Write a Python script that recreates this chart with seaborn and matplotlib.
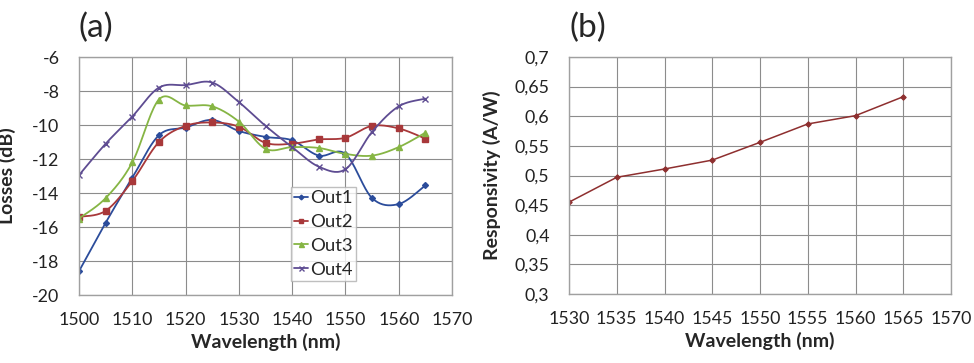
import numpy as np
import matplotlib
matplotlib.use("Agg")
import matplotlib.pyplot as plt
import seaborn as sns

# ---- data ----
wl_a = [1500, 1505, 1510, 1515, 1520, 1525, 1530, 1535, 1540, 1545, 1550, 1555, 1560, 1565]
out1 = [-18.6, -15.75, -13.1, -10.6, -10.15, -9.7, -10.35, -10.7, -10.9, -11.8, -11.7, -14.3, -14.65, -13.55]
out2 = [-15.4, -15.05, -13.3, -11.0, -10.05, -9.85, -10.1, -11.05, -11.1, -10.85, -10.75, -10.05, -10.2, -10.8]
out3 = [-15.5, -14.3, -12.2, -8.5, -8.85, -8.9, -9.8, -11.4, -11.3, -11.35, -11.7, -11.8, -11.3, -10.45]
out4 = [-12.95, -11.1, -9.5, -7.8, -7.65, -7.5, -8.65, -10.05, -11.3, -12.45, -12.6, -10.4, -8.9, -8.45]
series_names = ["Out1", "Out2", "Out3", "Out4"]

wl_b = [1530, 1535, 1540, 1545, 1550, 1555, 1560, 1565]
resp = [0.455, 0.497, 0.511, 0.526, 0.556, 0.587, 0.601, 0.633]

xticks_a = [1500, 1510, 1520, 1530, 1540, 1550, 1560, 1570]
yticks_a = [-20, -18, -16, -14, -12, -10, -8, -6]
yticklabels_a = ["-20", "-18", "-16", "-14", "-12", "-10", "-8", "-6"]
xticks_b = [1530, 1535, 1540, 1545, 1550, 1555, 1560, 1565, 1570]
yticks_b = [0.3, 0.35, 0.4, 0.45, 0.5, 0.55, 0.6, 0.65, 0.7]
yticklabels_b = ["0,3", "0,35", "0,4", "0,45", "0,5", "0,55", "0,6", "0,65", "0,7"]

colors = ["#2B4C9B", "#A8383A", "#86B544", "#5E4C92"]
markers = ["D", "s", "^", "x"]
msizes = [3, 4, 4.5, 4.5]


def smooth(x, y, n=20):
    """Excel-style smoothed line (Catmull-Rom Bezier) for rendering only."""
    x = np.asarray(x, float)
    y = np.asarray(y, float)
    P = np.column_stack([x, y])
    Pe = np.vstack([P[0], P, P[-1]])
    pts = []
    t = np.linspace(0, 1, n, endpoint=False)[:, None]
    for i in range(len(P) - 1):
        p0, p1, p2, p3 = Pe[i], Pe[i + 1], Pe[i + 2], Pe[i + 3]
        c1 = p1 + (p2 - p0) / 6
        c2 = p2 - (p3 - p1) / 6
        seg = ((1 - t) ** 3) * p1 + 3 * ((1 - t) ** 2) * t * c1 + 3 * (1 - t) * t ** 2 * c2 + t ** 3 * p2
        pts.append(seg)
    pts.append(P[-1][None, :])
    pts = np.vstack(pts)
    return pts[:, 0], pts[:, 1]


sns.set_theme(style="white")
plt.rcParams["font.family"] = ["Lato", "DejaVu Sans"]

FS = 12.8
LFS = 14
fig = plt.figure(figsize=(9.74, 3.63), dpi=100)
ax1 = fig.add_axes([0.0811, 0.1873, 0.383, 0.6556])
ax2 = fig.add_axes([0.5842, 0.19, 0.3922, 0.653])

grid_c = "#8c8c8c"

# ---- panel (a) ----
for name, vals, c, m, ms in zip(series_names, [out1, out2, out3, out4], colors, markers, msizes):
    sx, sy = smooth(wl_a, vals)
    sns.lineplot(x=sx, y=sy, ax=ax1, color=c, lw=1.3, sort=False, estimator=None)
    ax1.plot(wl_a, vals, linestyle="none", marker=m, ms=ms, color=c, mew=1.0)
    ax1.plot([], [], color=c, marker=m, ms=ms * 0.8, lw=1.3, label=name)

ax1.set_xlim(1500, 1570)
ax1.set_ylim(-20, -6)
ax1.set_xticks(xticks_a)
ax1.set_yticks(yticks_a)
ax1.set_yticklabels(yticklabels_a)
ax1.set_xlabel("Wavelength (nm)", fontsize=LFS, fontweight="bold", labelpad=4)
ax1.set_ylabel("Losses (dB)", fontsize=LFS, fontweight="bold")
ax1.yaxis.set_label_coords(-0.168, 0.5)
leg = ax1.legend(loc="upper left", bbox_to_anchor=(0.567, 0.455), frameon=True, fancybox=False,
                 fontsize=FS + 0.5, handlelength=0.75, handletextpad=0.1, borderpad=0.2,
                 labelspacing=0.42, borderaxespad=0)
leg.get_frame().set_edgecolor("#b0b0b0")
leg.get_frame().set_linewidth(1.0)
ax1.text(0.0, 1.06, "(a)", transform=ax1.transAxes, fontsize=24, ha="left", va="bottom")

# ---- panel (b) ----
sns.lineplot(x=wl_b, y=resp, ax=ax2, color="#8E2F2F", lw=1.1, marker="D", ms=2.8,
             markeredgecolor="#8E2F2F")
ax2.set_xlim(1530, 1570)
ax2.set_ylim(0.3, 0.7)
ax2.set_xticks(xticks_b)
ax2.set_yticks(yticks_b)
ax2.set_yticklabels(yticklabels_b)
ax2.set_xlabel("Wavelength (nm)", fontsize=LFS, fontweight="bold", labelpad=4)
ax2.set_ylabel("Responsivity (A/W)", fontsize=LFS, fontweight="bold")
ax2.yaxis.set_label_coords(-0.178, 0.5)
ax2.text(0.0, 1.06, "(b)", transform=ax2.transAxes, fontsize=24, ha="left", va="bottom")

for ax in (ax1, ax2):
    ax.grid(True, color=grid_c, lw=0.8)
    ax.set_axisbelow(True)
    for s in ax.spines.values():
        s.set_color("#a0a0a0")
        s.set_linewidth(1.0)
    ax.tick_params(axis="x", labelsize=FS, length=0, pad=12, colors="#222222")
    ax.tick_params(axis="y", labelsize=FS, length=0, pad=14, colors="#222222")

fig.savefig("out.png", dpi=100, facecolor="white")
